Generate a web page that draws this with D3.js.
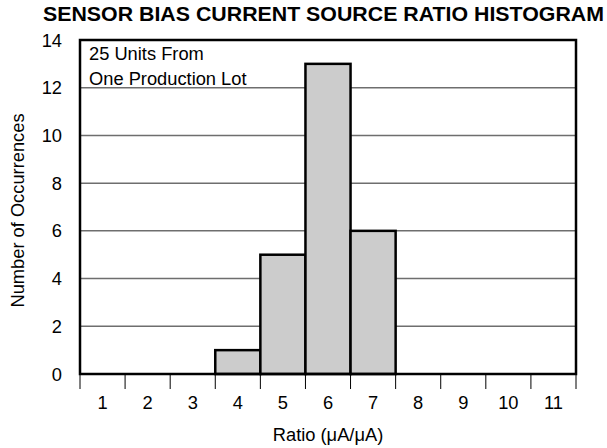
<!DOCTYPE html>
<html>
<head>
<meta charset="utf-8">
<script src="https://cdn.jsdelivr.net/npm/d3@7"></script>
<style>
  body { margin: 0; background: #fff; }
  text { font-family: "Liberation Sans", Arial, Helvetica, sans-serif; fill: #000; }
</style>
</head>
<body>
<div id="chart"></div>
<script>
// histogram data
const bins = ['1', '2', '3', '4', '5', '6', '7', '8', '9', '10', '11'];
const counts = [0, 0, 0, 1, 5, 13, 6, 0, 0, 0, 0];
const yTicks = [0, 2, 4, 6, 8, 10, 12, 14];
const noteLines = ['25 Units From', 'One Production Lot'];

const width = 607;
const height = 448;
const margin = { top: 40, right: 31, bottom: 74, left: 80 };
const fontSize = 18.3;

const svg = d3.select('#chart').append('svg')
  .attr('width', width)
  .attr('height', height);

const x = d3.scaleBand()
  .domain(bins)
  .range([margin.left, width - margin.right])
  .paddingInner(0)
  .paddingOuter(0);

const y = d3.scaleLinear()
  .domain([0, 14])
  .range([height - margin.bottom, margin.top]);

// title
svg.append('text')
  .attr('x', 43)
  .attr('y', 21)
  .attr('font-size', 19.5)
  .attr('font-weight', 'bold')
  .attr('textLength', 561)
  .attr('lengthAdjust', 'spacingAndGlyphs')
  .text('SENSOR BIAS CURRENT SOURCE RATIO HISTOGRAM');

// grid lines
svg.append('g')
  .selectAll('line')
  .data(yTicks.filter(d => d > 0 && d < 14))
  .enter()
  .append('line')
  .attr('x1', x.range()[0])
  .attr('x2', x.range()[1])
  .attr('y1', d => y(d))
  .attr('y2', d => y(d))
  .attr('stroke', '#6e6e6e')
  .attr('stroke-width', 1.5);

// bars
svg.append('g')
  .selectAll('rect')
  .data(bins.map((b, i) => ({ bin: b, count: counts[i] })).filter(d => d.count > 0))
  .enter()
  .append('rect')
  .attr('x', d => x(d.bin))
  .attr('y', d => y(d.count))
  .attr('width', x.bandwidth())
  .attr('height', d => y(0) - y(d.count))
  .attr('fill', '#cccccc')
  .attr('stroke', '#000')
  .attr('stroke-width', 2.5);

// plot frame
svg.append('rect')
  .attr('x', x.range()[0])
  .attr('y', y(14))
  .attr('width', x.range()[1] - x.range()[0])
  .attr('height', y(0) - y(14))
  .attr('fill', 'none')
  .attr('stroke', '#000')
  .attr('stroke-width', 2.5);

// x ticks at bin edges
const edges = bins.map(b => x(b)).concat([x.range()[1]]);
svg.append('g')
  .selectAll('line')
  .data(edges)
  .enter()
  .append('line')
  .attr('x1', d => d)
  .attr('x2', d => d)
  .attr('y1', y(0))
  .attr('y2', y(0) + 15)
  .attr('stroke', '#000')
  .attr('stroke-width', 1);

// x tick labels
svg.append('g')
  .selectAll('text')
  .data(bins)
  .enter()
  .append('text')
  .attr('x', d => x(d) + x.bandwidth() / 2)
  .attr('y', 408.5)
  .attr('text-anchor', 'middle')
  .attr('font-size', fontSize)
  .text(d => d);

// y tick labels
svg.append('g')
  .selectAll('text')
  .data(yTicks)
  .enter()
  .append('text')
  .attr('x', 62)
  .attr('y', d => y(d) + 6.5)
  .attr('text-anchor', 'end')
  .attr('font-size', fontSize)
  .text(d => d);

// axis titles
svg.append('text')
  .attr('x', (x.range()[0] + x.range()[1]) / 2)
  .attr('y', 440.5)
  .attr('text-anchor', 'middle')
  .attr('font-size', fontSize)
  .text('Ratio (\u03bcA/\u03bcA)');

svg.append('text')
  .attr('transform', 'translate(24,210.5) rotate(-90)')
  .attr('text-anchor', 'middle')
  .attr('font-size', fontSize)
  .text('Number of Occurrences');

// note in the corner
svg.append('g')
  .selectAll('text')
  .data(noteLines)
  .enter()
  .append('text')
  .attr('x', 89)
  .attr('y', (d, i) => 59.5 + i * 25)
  .attr('font-size', fontSize)
  .text(d => d);
</script>
</body>
</html>
